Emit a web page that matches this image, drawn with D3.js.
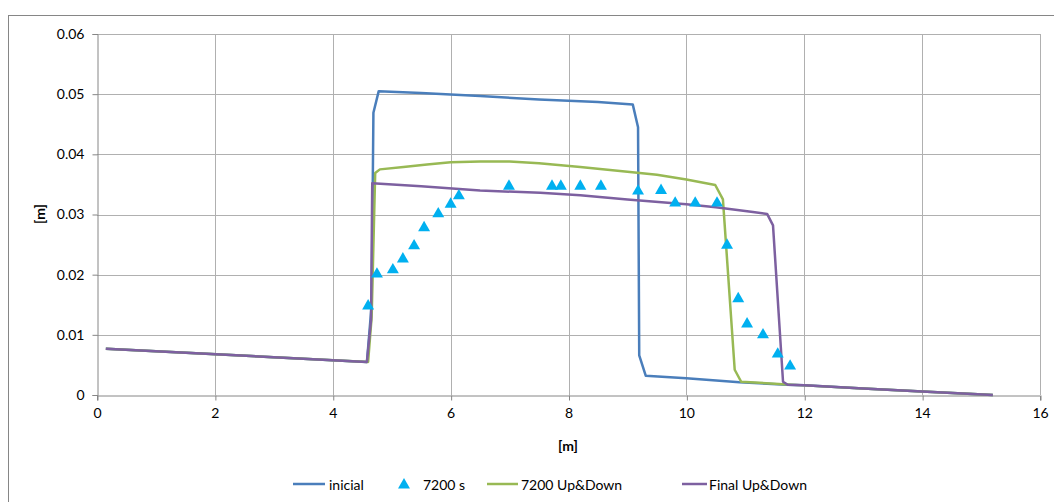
<!DOCTYPE html>
<html>
<head>
<meta charset="utf-8">
<script src="https://cdn.jsdelivr.net/npm/d3@7"></script>
<style>
  html, body { margin: 0; padding: 0; background: #fff; }
  svg { display: block; font-family: Lato, "Open Sans", sans-serif; }
</style>
</head>
<body>
<svg id="chart" width="1054" height="502"></svg>
<script>
// datos
const xTicks = [0, 2, 4, 6, 8, 10, 12, 14, 16];
const yTicks = [0, 0.01, 0.02, 0.03, 0.04, 0.05, 0.06];

const inicial = [
  [0.15, 0.0077], [4.58, 0.0055], [4.66, 0.0150], [4.69, 0.0469], [4.78, 0.0505],
  [5.5, 0.0502], [6.5, 0.0497], [7.5, 0.0491], [8.5, 0.0487], [9.09, 0.0483],
  [9.18, 0.0445], [9.2, 0.0066], [9.31, 0.0032], [10, 0.0028], [10.9, 0.0021],
  [11.7, 0.0017], [12, 0.0016], [13, 0.0011], [14, 0.0006], [15.2, 0]
];
const upDown7200 = [
  [0.15, 0.0077], [4.6, 0.0055], [4.66, 0.0130], [4.72, 0.0369], [4.8, 0.0375],
  [5.2, 0.0379], [5.6, 0.0383], [6, 0.0387], [6.5, 0.0388], [7, 0.0388],
  [7.5, 0.0385], [8.2, 0.0379], [9, 0.0371], [9.5, 0.0366], [10, 0.0358],
  [10.49, 0.0349], [10.62, 0.0325], [10.82, 0.0042], [10.93, 0.0022], [11.64, 0.0018],
  [12, 0.0016], [13, 0.0011], [14, 0.0006], [15.2, 0]
];
const finalUpDown = [
  [0.15, 0.0077], [4.58, 0.0055], [4.65, 0.0125], [4.67, 0.0352], [5.5, 0.0347],
  [6.5, 0.0340], [7.52, 0.0336], [8.2, 0.0332], [9, 0.0325], [10, 0.0317],
  [10.5, 0.0312], [11.13, 0.0304], [11.37, 0.0301], [11.47, 0.0282], [11.64, 0.0022],
  [11.72, 0.0017], [12, 0.0016], [13, 0.0011], [14, 0.0006], [15.2, 0]
];
const medidos7200 = [
  [4.6, 0.0148], [4.75, 0.0201], [5.02, 0.0208], [5.19, 0.0226], [5.38, 0.0248],
  [5.55, 0.0278], [5.79, 0.0301], [6.0, 0.0317], [6.14, 0.0331], [6.99, 0.0347],
  [7.72, 0.0347], [7.87, 0.0347], [8.2, 0.0347], [8.55, 0.0347], [9.18, 0.0339],
  [9.57, 0.0340], [9.81, 0.0319], [10.15, 0.0319], [10.52, 0.0319], [10.69, 0.0249],
  [10.88, 0.0160], [11.03, 0.0118], [11.3, 0.0100], [11.55, 0.0068], [11.76, 0.0048]
];

const colores = {
  inicial: "#4a7ebb",
  triangulo: "#00b0f0",
  verde: "#98b954",
  morado: "#7d60a0"
};

const svg = d3.select("#chart");
const margin = { left: 97, right: 1040, top: 34, bottom: 395 };

const x = d3.scaleLinear().domain([0, 16]).range([margin.left, margin.right]);
const y = d3.scaleLinear().domain([0, 0.06]).range([margin.bottom, margin.top]);

// borde exterior del gráfico
svg.append("rect")
  .attr("x", 8.5).attr("y", 15.5)
  .attr("width", 1060).attr("height", 520)
  .attr("fill", "none")
  .attr("stroke", "#868686");

// rejilla
svg.append("g").selectAll("line").data(yTicks.slice(1)).join("line")
  .attr("x1", margin.left).attr("x2", margin.right)
  .attr("y1", d => Math.round(y(d)) + 0.5).attr("y2", d => Math.round(y(d)) + 0.5)
  .attr("stroke", "#b0b0b0");
svg.append("g").selectAll("line").data(xTicks.slice(1)).join("line")
  .attr("y1", margin.top).attr("y2", margin.bottom)
  .attr("x1", d => Math.round(x(d)) + 0.5).attr("x2", d => Math.round(x(d)) + 0.5)
  .attr("stroke", "#b0b0b0");

// ejes
const ejeX = svg.append("g")
  .attr("transform", `translate(0,${Math.round(y(0)) + 0.5})`)
  .call(d3.axisBottom(x).tickValues(xTicks).tickSize(5).tickPadding(8).tickFormat(d3.format("d")));
const ejeY = svg.append("g")
  .attr("transform", `translate(${Math.round(x(0)) + 0.5},0)`)
  .call(d3.axisLeft(y).tickValues(yTicks).tickSize(5).tickPadding(8)
    .tickFormat(d => d === 0 ? "0" : d3.format(".2f")(d)));

[ejeX, ejeY].forEach(g => {
  g.select(".domain").attr("stroke", "#868686");
  g.selectAll(".tick line").attr("stroke", "#868686");
  g.selectAll(".tick text")
    .attr("fill", "#000")
    .style("font-size", "14px")
    .style("font-family", "Lato, 'Open Sans', sans-serif");
});
ejeX.selectAll(".tick line").attr("transform", "translate(0.5,0)");

// títulos de ejes
svg.append("text")
  .attr("x", 568).attr("y", 445)
  .attr("text-anchor", "middle").attr("dominant-baseline", "central")
  .style("font-size", "14px").style("font-weight", "bold")
  .text("[m]");
svg.append("text")
  .attr("transform", "translate(39,214) rotate(-90)")
  .attr("text-anchor", "middle").attr("dominant-baseline", "central")
  .style("font-size", "14px").style("font-weight", "bold")
  .text("[m]");

// líneas
const linea = d3.line().x(d => x(d[0])).y(d => y(d[1]));
const series = [
  { datos: inicial, color: colores.inicial },
  { datos: upDown7200, color: colores.verde },
  { datos: finalUpDown, color: colores.morado }
];
series.forEach(s => {
  svg.append("path")
    .datum(s.datos)
    .attr("d", linea)
    .attr("fill", "none")
    .attr("stroke", s.color)
    .attr("stroke-width", 2.5)
    .attr("stroke-linejoin", "round");
});

// triángulos (7200 s)
const triangulo = d3.symbol().type(d3.symbolTriangle).size(62);
svg.append("g").selectAll("path").data(medidos7200).join("path")
  .attr("transform", d => `translate(${x(d[0])},${y(d[1])})`)
  .attr("d", triangulo)
  .attr("fill", colores.triangulo);

// leyenda
const leyendaY = 484;
const leyenda = [
  { tipo: "linea", x0: 293, x1: 325, tx: 329, color: colores.inicial, texto: "inicial" },
  { tipo: "tri", x0: 404, tx: 423, color: colores.triangulo, texto: "7200 s" },
  { tipo: "linea", x0: 487, x1: 518, tx: 521, color: colores.verde, texto: "7200 Up&Down" },
  { tipo: "linea", x0: 682, x1: 707, tx: 709, color: colores.morado, texto: "Final Up&Down" }
];
leyenda.forEach(l => {
  if (l.tipo === "linea") {
    svg.append("line")
      .attr("x1", l.x0).attr("x2", l.x1)
      .attr("y1", leyendaY).attr("y2", leyendaY)
      .attr("stroke", l.color).attr("stroke-width", 2.5);
  } else {
    svg.append("path")
      .attr("transform", `translate(${l.x0},${leyendaY + 1})`)
      .attr("d", triangulo)
      .attr("fill", l.color);
  }
  svg.append("text")
    .attr("x", l.tx).attr("y", leyendaY)
    .attr("dominant-baseline", "central")
    .style("font-size", "14px")
    .text(l.texto);
});
</script>
</body>
</html>
